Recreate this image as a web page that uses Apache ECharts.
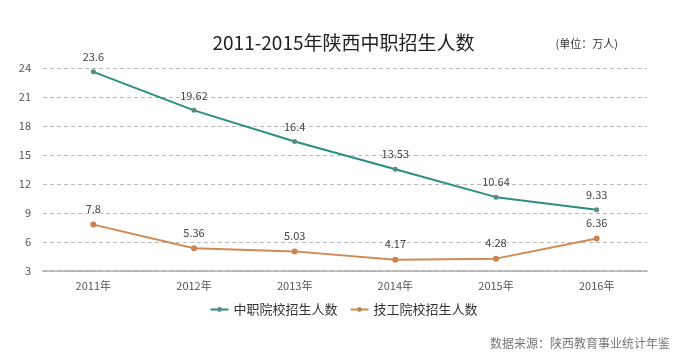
<!DOCTYPE html>
<html><head><meta charset="utf-8">
<script src="https://cdn.jsdelivr.net/npm/echarts@6/dist/echarts.min.js"></script>
<style>html,body{margin:0;padding:0;background:#fff}#c{width:687px;height:362px}</style>
</head><body><div id="c"></div>
<script>
var categories = ['2011年','2012年','2013年','2014年','2015年','2016年'];
var zhongzhi = [23.6, 19.62, 16.4, 13.53, 10.64, 9.33];
var jigong = [7.8, 5.36, 5.03, 4.17, 4.28, 6.36];
var seriesNames = ['中职院校招生人数','技工院校招生人数'];
var yTicks = {min: 3, max: 24, interval: 3};

var font = '"Noto Sans CJK SC", "Open Sans", sans-serif';
var chart = echarts.init(document.getElementById('c'));
chart.setOption({
  animation: false,
  textStyle: {fontFamily: font},
  title: [
    {text: '2011-2015年陕西中职招生人数', left: 'center', top: 28,
     textStyle: {fontSize: 19, fontWeight: 'normal', color: '#222', fontFamily: font}},
    {text: '(单位：万人)', right: 64, top: 33,
     textStyle: {fontSize: 11, fontWeight: 'normal', color: '#333', fontFamily: font}},
    {text: '数据来源：陕西教育事业统计年鉴', right: 12, top: 332,
     textStyle: {fontSize: 12, fontWeight: 'normal', color: '#777', fontFamily: font}}
  ],
  legend: {
    data: seriesNames, top: 298, left: 'center', itemGap: 12,
    itemWidth: 18, itemHeight: 6,
    textStyle: {fontSize: 13, color: '#333', fontFamily: font}
  },
  grid: {left: 43, right: 40, top: 68, bottom: 91},
  xAxis: {
    type: 'category', data: categories, boundaryGap: true,
    axisLine: {lineStyle: {color: '#aaa', width: 1.5}},
    axisTick: {show: false},
    axisLabel: {color: '#555', fontSize: 11, margin: 9}
  },
  yAxis: {
    type: 'value', min: yTicks.min, max: yTicks.max, interval: yTicks.interval,
    axisLine: {show: false}, axisTick: {show: false},
    axisLabel: {color: '#555', fontSize: 11, margin: 12},
    splitLine: {lineStyle: {color: '#bbb', type: [4, 3]}}
  },
  series: [
    {name: seriesNames[0], type: 'line', data: zhongzhi,
     color: '#2a8f80', symbol: 'circle', symbolSize: 5,
     lineStyle: {width: 2, color: '#2a8f80'},
     itemStyle: {color: '#5a8a80'},
     label: {show: true, position: 'top', distance: 7, color: '#444', fontSize: 11}},
    {name: seriesNames[1], type: 'line', data: jigong,
     color: '#d08a55', symbol: 'circle', symbolSize: 6,
     lineStyle: {width: 2, color: '#d08a55'},
     itemStyle: {color: '#c88450'},
     label: {show: true, position: 'top', distance: 7, color: '#444', fontSize: 11}}
  ]
});
</script></body></html>
